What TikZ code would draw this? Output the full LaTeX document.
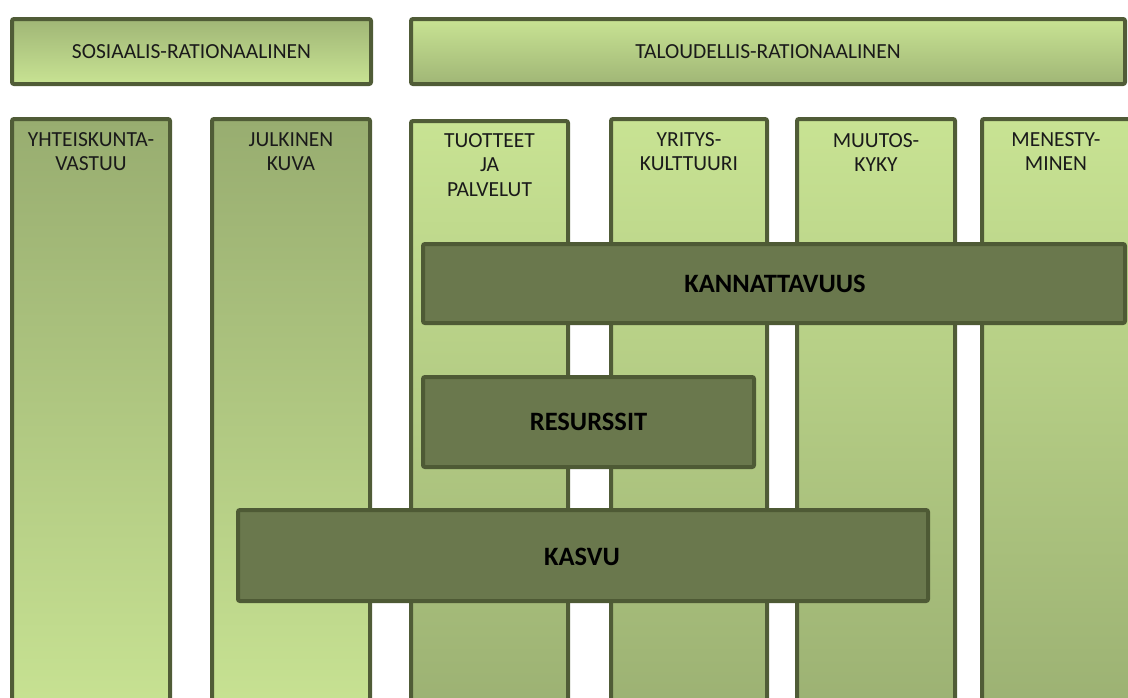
\documentclass[tikz,border=0pt]{standalone}
\usepackage{fontspec}
\setmainfont{Carlito}
\begin{document}
\definecolor{lightgreen}{HTML}{C8E393}
\definecolor{midgreen}{HTML}{A0B676}
\definecolor{edgegreen}{HTML}{505C37}
\definecolor{darkfill}{HTML}{6A784D}
\definecolor{darkedge}{HTML}{4E5A35}
\definecolor{inktext}{HTML}{1A1A1A}
\begin{tikzpicture}[x=1pt,y=-1pt,
  panel/.style={draw=edgegreen, line width=4pt, rounded corners=2pt,
    rectangle, inner sep=0pt, anchor=north west},
  headup/.style={panel, top color=midgreen, bottom color=lightgreen},
  headdown/.style={panel, top color=lightgreen, bottom color=midgreen},
  colup/.style={panel, top color=midgreen!95!black, bottom color=lightgreen},
  coldown/.style={panel, top color=lightgreen, bottom color=midgreen!97!black},
  collabel/.style={anchor=north, align=center, text=inktext,
    font=\fontsize{21.5}{24.5}\selectfont, inner sep=0pt},
  headlabel/.style={text=inktext, font=\fontsize{21.5}{24}\selectfont},
  barlabel/.style={font=\fontsize{26.5}{30}\selectfont\bfseries, text=black},
  bar/.style={draw=darkedge, fill=darkfill, line width=4pt,
    rounded corners=2pt, rectangle, inner sep=0pt, anchor=north west,
    barlabel}
]
\useasboundingbox (0,0) rectangle (1128,697);
\clip (0,0) rectangle (1128,697);

% group headings (positions are outer corners of the frames)
\node[headup, minimum width=359pt, minimum height=65pt] (sos) at (10,17) {};
\node[headlabel] at (sos.center) {SOSIAALIS-RATIONAALINEN};
\node[headdown, minimum width=714pt, minimum height=65pt] (tal) at (409,17) {};
\node[headlabel] at (tal.center) {TALOUDELLIS-RATIONAALINEN};

% columns
\node[colup, minimum width=158pt, minimum height=600pt] (yht) at (10,117) {};
\node[colup, minimum width=158pt, minimum height=600pt] (jul) at (210,117) {};
\node[coldown, minimum width=157pt, minimum height=598pt] (tuo) at (409,119) {};
\node[coldown, minimum width=156pt, minimum height=600pt] (yri) at (609,117) {};
\node[coldown, minimum width=158pt, minimum height=600pt] (muu) at (795,117) {};
\node[coldown, minimum width=200pt, minimum height=600pt] (men) at (980,117) {};

\node[collabel] (yhtl) at ([yshift=-15pt]yht.north) {YHTEISKUNTA-\\VASTUU};
\node[collabel] (jull) at ([yshift=-15pt]jul.north) {JULKINEN\\KUVA};
\node[collabel] (tuol) at ([yshift=-14pt]tuo.north) {TUOTTEET\\JA\\PALVELUT};
\node[collabel] (yril) at ([yshift=-15pt]yri.north) {YRITYS-\\KULTTUURI};
\node[collabel] (muul) at ([yshift=-16pt]muu.north) {MUUTOS-\\KYKY};
\node[collabel] (menl) at (1056,132) {MENESTY-\\MINEN};

% overlaid bars
\node[bar, minimum width=702pt, minimum height=79pt] (kan) at (421,242) {};
\node[barlabel] at (775,284) {KANNATTAVUUS};
\node[bar, minimum width=331pt, minimum height=90pt] (res) at (421,375) {RESURSSIT};
\node[bar, minimum width=690pt, minimum height=91pt] (kas) at (236,508) {};
\node[barlabel] at (582,557) {KASVU};
\end{tikzpicture}
\end{document}
